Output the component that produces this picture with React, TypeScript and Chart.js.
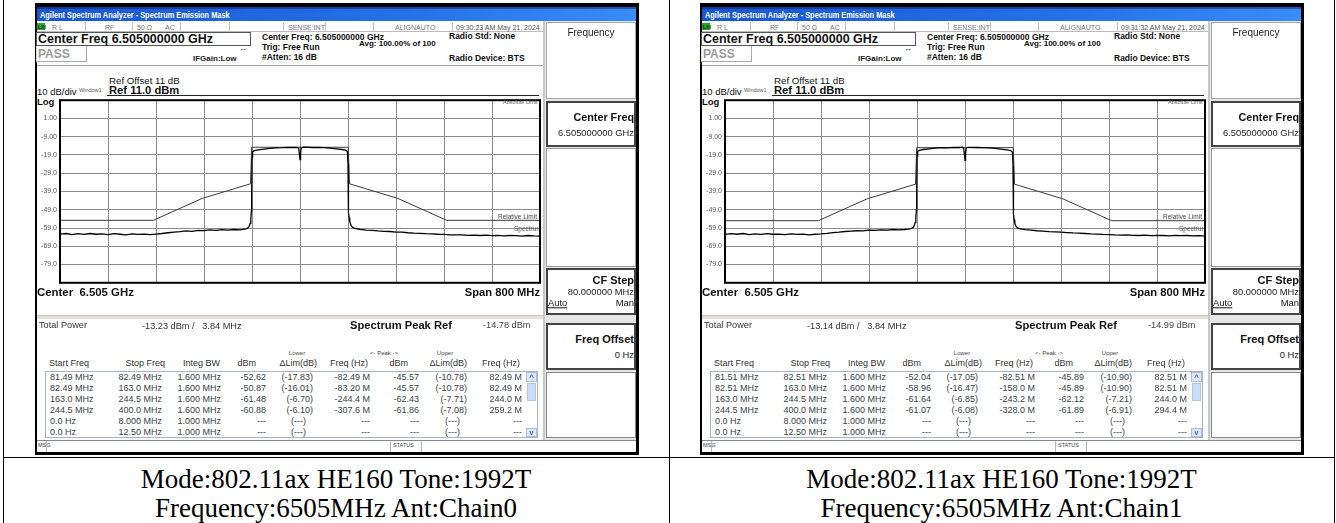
import React, { useEffect, useRef } from "react";
import { Chart, registerables } from "chart.js";
Chart.register(...registerables);

const SANS = '"Liberation Sans", Arial, Helvetica, sans-serif';
const SERIF = '"Liberation Serif", "Times New Roman", serif';

// X axis: offset from the centre frequency in MHz (span 800 MHz, 80 MHz/div)
const freqMin = -400;
const freqMax = 400;
const freqStep = 80;
// Y axis: dBm (Ref 11.0 dBm, 10 dB/div)
const levelMin = -89;
const levelMax = 11;
const levelStep = 10;
const yTickValues = [1, -9, -19, -29, -39, -49, -59, -69, -79];
const yTickLabels = ["1.00", "-9.00", "-19.0", "-29.0", "-39.0", "-49.0", "-59.0", "-69.0", "-79.0"];

// Relative limit mask (MHz offset / dBm)
const limitFreqs = [-400, -244.5, -163, -82.5, -80.5, 80.5, 82.5, 163, 244.5, 400];
const chain0Limit = [-54.78, -54.78, -42.78, -34.78, -14.78, -14.78, -34.78, -42.78, -54.78, -54.78];
const chain1Limit = [-54.99, -54.99, -42.99, -34.99, -14.99, -14.99, -34.99, -42.99, -54.99, -54.99];

// Spectrum trace (MHz offset)
const specFreqs = [
  -400, -390, -380, -370, -360, -350, -340, -330, -320, -310,
  -300, -290, -280, -270, -260, -250, -240, -230, -220, -210,
  -200, -190, -180, -170, -160, -150, -140, -130, -120, -110,
  -100, -95, -90, -87, -85, -83, -82, -81, -80.5, -80,
  -79, -76, -70, -60, -50, -40, -30, -20, -10, -4,
  -2, -1, 0, 1, 2, 4, 10, 20, 30, 40,
  50, 60, 70, 76, 79, 80, 80.5, 81, 82, 83,
  85, 87, 90, 95, 100, 110, 120, 130, 140, 150,
  160, 170, 180, 190, 200, 210, 220, 230, 240, 250,
  260, 270, 280, 290, 300, 310, 320, 330, 340, 350,
  360, 370, 380, 390, 400,
];
const chain0Spectrum = [
  -62.3, -62.0, -62.6, -62.1, -62.5, -62.0, -62.4, -62.2, -62.6, -62.1,
  -62.4, -62.7, -62.2, -62.5, -62.3, -62.6, -62.3, -62.0, -61.6, -61.2,
  -61.0, -60.6, -60.8, -60.3, -60.4, -60.0, -60.3, -59.9, -60.1, -59.8,
  -60.0, -59.7, -59.5, -59.0, -58.2, -56.5, -54.0, -49.5, -40.0, -20.0,
  -17.2, -16.6, -16.2, -15.8, -15.4, -15.1, -15.0, -14.8, -14.9, -14.8,
  -15.5, -18.5, -21.5, -18.0, -15.4, -14.8, -14.7, -14.9, -14.8, -15.0,
  -15.3, -15.6, -16.0, -16.4, -17.0, -24.0, -45.0, -50.5, -53.5, -55.5,
  -57.5, -58.5, -59.0, -59.4, -59.7, -60.1, -60.3, -60.6, -60.8, -60.9,
  -61.2, -61.3, -61.6, -61.8, -61.9, -62.1, -62.2, -62.4, -62.5, -62.7,
  -62.8, -62.7, -63.0, -62.9, -63.1, -62.9, -63.2, -63.0, -63.3, -63.1,
  -63.2, -63.4, -63.1, -63.3, -63.4,
];
const chain1Spectrum = [
  -62.5, -62.1, -62.4, -62.0, -62.6, -62.2, -62.5, -62.1, -62.4, -62.3,
  -62.6, -62.2, -62.5, -62.3, -62.7, -62.4, -62.2, -61.9, -61.5, -61.3,
  -60.9, -60.7, -60.5, -60.6, -60.2, -60.3, -60.0, -60.1, -59.8, -60.0,
  -59.8, -59.6, -59.3, -58.8, -58.0, -56.0, -53.5, -49.0, -38.0, -19.5,
  -17.0, -16.5, -16.0, -15.6, -15.3, -15.0, -15.1, -14.8, -14.9, -14.7,
  -15.6, -18.8, -22.0, -18.2, -15.5, -14.8, -14.8, -14.9, -15.0, -15.1,
  -15.4, -15.8, -16.2, -16.6, -17.4, -25.0, -46.0, -51.5, -54.5, -56.5,
  -58.0, -58.8, -59.3, -59.6, -59.9, -60.2, -60.5, -60.7, -61.0, -61.1,
  -61.3, -61.5, -61.7, -61.8, -62.0, -62.2, -62.3, -62.5, -62.6, -62.8,
  -62.9, -62.8, -63.0, -63.1, -62.9, -63.2, -63.0, -63.1, -63.3, -63.0,
  -63.2, -63.1, -63.3, -63.2, -63.4,
];

// Result table
const tableHeaders = ["Start Freq", "Stop Freq", "Integ BW", "dBm", "ΔLim(dB)", "Freq (Hz)", "dBm", "ΔLim(dB)", "Freq (Hz)"];
const chain0Rows = [
  ["81.49 MHz", "82.49 MHz", "1.600 MHz", "-52.62", "(-17.83)", "-82.49 M", "-45.57", "(-10.78)", "82.49 M"],
  ["82.49 MHz", "163.0 MHz", "1.600 MHz", "-50.87", "(-16.01)", "-83.20 M", "-45.57", "(-10.78)", "82.49 M"],
  ["163.0 MHz", "244.5 MHz", "1.600 MHz", "-61.48", "(-6.70)", "-244.4 M", "-62.43", "(-7.71)", "244.0 M"],
  ["244.5 MHz", "400.0 MHz", "1.600 MHz", "-60.88", "(-6.10)", "-307.6 M", "-61.86", "(-7.08)", "259.2 M"],
  ["0.0 Hz", "8.000 MHz", "1.000 MHz", "---", "(---)", "---", "---", "(---)", "---"],
  ["0.0 Hz", "12.50 MHz", "1.000 MHz", "---", "(---)", "---", "---", "(---)", "---"],
];
const chain1Rows = [
  ["81.51 MHz", "82.51 MHz", "1.600 MHz", "-52.04", "(-17.05)", "-82.51 M", "-45.89", "(-10.90)", "82.51 M"],
  ["82.51 MHz", "163.0 MHz", "1.600 MHz", "-58.96", "(-16.47)", "-158.0 M", "-45.89", "(-10.90)", "82.51 M"],
  ["163.0 MHz", "244.5 MHz", "1.600 MHz", "-61.64", "(-6.85)", "-243.2 M", "-62.12", "(-7.21)", "244.0 M"],
  ["244.5 MHz", "400.0 MHz", "1.600 MHz", "-61.07", "(-6.08)", "-328.0 M", "-61.89", "(-6.91)", "294.4 M"],
  ["0.0 Hz", "8.000 MHz", "1.000 MHz", "---", "(---)", "---", "---", "(---)", "---"],
  ["0.0 Hz", "12.50 MHz", "1.000 MHz", "---", "(---)", "---", "---", "(---)", "---"],
];
const chain0Summary = ["09:30:23 AM May 21, 2024", "-13.23 dBm /   3.84 MHz", "-14.78 dBm"];
const chain1Summary = ["09:31:32 AM May 21, 2024", "-13.14 dBm /   3.84 MHz", "-14.99 dBm"];
const chain0Caption = ["Mode:802.11ax HE160 Tone:1992T", "Frequency:6505MHz Ant:Chain0"];
const chain1Caption = ["Mode:802.11ax HE160 Tone:1992T", "Frequency:6505MHz Ant:Chain1"];

type TP = {
  x: number; y: number; s: number; b?: boolean; c?: string; a?: "l" | "r" | "c";
  f?: string; u?: boolean; sx?: number; children: React.ReactNode;
};
function T({ x, y, s, b, c, a = "l", f = SANS, u, sx, children }: TP) {
  let tx = a === "r" ? "translate(-100%,-50%)" : a === "c" ? "translate(-50%,-50%)" : "translateY(-50%)";
  if (sx) tx += ` scaleX(${sx})`;
  return (
    <div
      style={{
        position: "absolute", left: x, top: y, transform: tx, transformOrigin: "left center",
        fontSize: s, fontWeight: b ? 700 : 400,
        color: c ?? "#111", fontFamily: f, whiteSpace: "pre", lineHeight: 1,
        textDecoration: u ? "underline" : undefined,
      }}
    >
      {children}
    </div>
  );
}

function R({ x, y, w, h, st }: { x: number; y: number; w: number; h: number; st?: React.CSSProperties }) {
  return <div style={{ position: "absolute", left: x, top: y, width: w, height: h, boxSizing: "border-box", ...st }} />;
}

function SpectrumPlot({ left, top, spectrum, limit }: { left: number; top: number; spectrum: number[]; limit: number[] }) {
  const ref = useRef<HTMLCanvasElement>(null);
  useEffect(() => {
    const frame = {
      id: "plotFrame",
      afterDraw(c: any) {
        const { left: l, top: t, right: r, bottom: b } = c.chartArea;
        const ctx = c.ctx;
        ctx.save();
        ctx.strokeStyle = "#000";
        ctx.lineWidth = 2;
        ctx.strokeRect(l, t, r - l, b - t);
        ctx.restore();
      },
    };
    const chart = new Chart(ref.current as HTMLCanvasElement, {
      type: "line",
      data: {
        datasets: [
          {
            label: "Spectrum",
            data: specFreqs.map((f, i) => ({ x: f, y: spectrum[i] })),
            borderColor: "#000", borderWidth: 1.3, pointRadius: 0, order: 0,
          },
          {
            label: "Relative Limit",
            data: limitFreqs.map((f, i) => ({ x: f, y: limit[i] })),
            borderColor: "#3a3a3a", borderWidth: 1, pointRadius: 0, order: 1,
          },
        ],
      },
      options: {
        animation: false,
        responsive: false,
        devicePixelRatio: 1,
        events: [],
        layout: { padding: { top: 5, bottom: 5, left: 0, right: 5 } },
        plugins: { legend: { display: false }, tooltip: { enabled: false } },
        scales: {
          x: {
            type: "linear", min: freqMin, max: freqMax,
            ticks: { display: false, stepSize: freqStep },
            grid: { color: "#8c8c8c", lineWidth: 1, drawTicks: false },
            border: { display: false },
          },
          y: {
            type: "linear", min: levelMin, max: levelMax,
            ticks: {
              stepSize: levelStep, padding: 3, color: "#555",
              font: { family: SANS, size: 7 },
              callback: (v: any) => {
                const i = yTickValues.indexOf(Math.round(Number(v)));
                return i >= 0 ? yTickLabels[i] : "";
              },
            },
            grid: { color: "#8c8c8c", lineWidth: 1, drawTicks: false },
            border: { display: false },
            afterFit: (s: any) => { s.width = 20; },
          },
        },
      } as any,
      plugins: [frame],
    });
    return () => chart.destroy();
  }, [spectrum, limit]);
  return (
    <canvas
      ref={ref}
      width={505}
      height={197}
      style={{ position: "absolute", left, top, width: 505, height: 197 }}
    />
  );
}

const colRight = [0, 162, 221, 266, 313, 370, 419, 467, 522];
const headRight = [0, 165, 220, 256, 317, 368, 408, 467, 520];

function Screen({ dx, summary, rows, spectrum, limit }: {
  dx: number; summary: string[]; rows: string[][]; spectrum: number[]; limit: number[];
}) {
  const X = (v: number) => v + dx;
  const gray = "#777";
  const sep = [85, 132, 180, 229, 283, 325, 373, 452];
  return (
    <>
      {/* frame */}
      <R x={X(35)} y={3} w={604} h={452} st={{ background: "#000" }} />
      <R x={X(37)} y={21} w={599} h={431} st={{ background: "#fff" }} />
      {/* title bar */}
      <R x={X(37)} y={7} w={599} h={14} st={{ background: "linear-gradient(to right,#1757d2,#2670e6 60%,#3a8cf8)" }} />
      <R x={X(37)} y={7} w={599} h={2} st={{ background: "rgba(0,20,90,0.45)" }} />
      <T x={X(40)} y={14.5} s={9} b c="#fff" sx={0.82}>Agilent Spectrum Analyzer - Spectrum Emission Mask</T>
      {/* status row */}
      <R x={X(37)} y={21} w={506} h={11} st={{ borderBottom: "1px solid #bbb" }} />
      {sep.map((s) => (
        <R key={s} x={X(s)} y={22} w={1} h={10} st={{ background: "#c4c4c4" }} />
      ))}
      <R x={X(37)} y={23} w={8} h={7} st={{ background: "#2fa52f" }} />
      <T x={X(38)} y={26.5} s={5} b c="#0a300a">LXI</T>
      <T x={X(52)} y={26.5} s={7} c={gray}>R L</T>
      <T x={X(105)} y={26.5} s={7} c={gray}>RF</T>
      <T x={X(137)} y={26.5} s={7} c={gray}>50 Ω</T>
      <T x={X(165)} y={26.5} s={7} c={gray}>AC</T>
      <T x={X(288)} y={26.5} s={7} c={gray}>SENSE:INT</T>
      <T x={X(395)} y={26.5} s={7} c={gray}>ALIGNAUTO</T>
      <T x={X(456)} y={26.5} s={7} c="#555">{summary[0]}</T>
      {/* centre freq / pass */}
      <R x={X(36)} y={32} w={215} h={14} st={{ border: "1px solid #555", background: "#fff" }} />
      <T x={X(38)} y={39} s={12.5} b>Center Freq 6.505000000 GHz</T>
      <R x={X(36)} y={46} w={51} h={16} st={{ borderRight: "1px solid #aaa", borderBottom: "1px solid #aaa", borderLeft: "1px solid #ddd" }} />
      <T x={X(38)} y={54} s={12} b c="#9a9a9a">PASS</T>
      <T x={X(193)} y={59} s={8} b c="#222">IFGain:Low</T>
      <T x={X(239)} y={49} s={8} c="#222">↔</T>
      <T x={X(262)} y={37} s={8.5} b c="#111">Center Freq: 6.505000000 GHz</T>
      <T x={X(262)} y={47} s={8.5} b c="#111">Trig: Free Run</T>
      <T x={X(262)} y={57} s={8.5} b c="#111">#Atten: 16 dB</T>
      <T x={X(359)} y={44} s={8} b c="#111">Avg: 100.00% of 100</T>
      <T x={X(449)} y={36} s={8.5} b c="#111">Radio Std: None</T>
      <T x={X(449)} y={58} s={8.5} b c="#111">Radio Device: BTS</T>
      <R x={X(37)} y={65} w={506} h={1} st={{ background: "#a0a0a0" }} />
      {/* reference labels */}
      <T x={X(109)} y={81} s={9.7} c="#111">Ref Offset 11 dB</T>
      <T x={X(37)} y={91.5} s={9.5} c="#111">10 dB/div</T>
      <T x={X(79)} y={90.5} s={5.5} c="#555">Window1</T>
      <T x={X(109)} y={91} s={11.2} b c="#111">Ref 11.0 dBm</T>
      <R x={X(107)} y={95} w={432} h={1} st={{ background: "#222" }} />
      <T x={X(37)} y={102} s={9.5} b c="#111">Log</T>
      {/* plot */}
      <SpectrumPlot left={X(40)} top={93} spectrum={spectrum} limit={limit} />
      <div style={{ position: "absolute", left: X(503), top: 99, width: 35, height: 7, overflow: "hidden" }}>
        <T x={0} y={3.5} s={5.5} c="#666">Absolute Limit</T>
      </div>
      <T x={X(537)} y={217} s={6.5} c="#444" a="r">Relative Limit</T>
      <div style={{ position: "absolute", left: X(514), top: 225, width: 24, height: 8, overflow: "hidden" }}>
        <T x={0} y={4} s={6.5} c="#555">Spectrum</T>
      </div>
      <T x={X(37)} y={293} s={11.4} b c="#111">Center  6.505 GHz</T>
      <T x={X(540)} y={293} s={11.2} b c="#111" a="r">Span 800 MHz</T>
      {/* results */}
      <R x={X(37)} y={315} w={506} h={4} st={{ background: "#e4e0d8", borderTop: "1px solid #cdc8be" }} />
      <T x={X(39)} y={326} s={9.2} c="#333">Total Power</T>
      <T x={X(142)} y={327} s={9.2} c="#333">{summary[1]}</T>
      <T x={X(350)} y={326} s={11.2} b c="#111">Spectrum Peak Ref</T>
      <T x={X(483)} y={326} s={9.2} c="#444">{summary[2]}</T>
      <T x={X(297)} y={352.5} s={6} c="#444" a="c">Lower</T>
      <T x={X(384)} y={352.5} s={6} c="#444" a="c">{"<- Peak ->"}</T>
      <T x={X(445)} y={352.5} s={6} c="#444" a="c">Upper</T>
      {tableHeaders.map((h, i) =>
        i === 0 ? (
          <T key={i} x={X(49)} y={363} s={9} c="#333">{h}</T>
        ) : (
          <T key={i} x={X(headRight[i])} y={363} s={9} c="#333" a="r">{h}</T>
        )
      )}
      <R x={X(45)} y={371} w={493} h={67} st={{ border: "1px solid #a8b4c4", background: "#fff" }} />
      {rows.map((r, ri) =>
        r.map((cell, ci) =>
          ci === 0 ? (
            <T key={ri + "-" + ci} x={X(50)} y={377 + ri * 11} s={9} c="#3a3f48">{cell}</T>
          ) : (
            <T key={ri + "-" + ci} x={X(colRight[ci] - (cell === "(---)" ? 7 : 0))} y={377 + ri * 11} s={9} c="#3a3f48" a="r">{cell}</T>
          )
        )
      )}
      {/* scrollbar */}
      <R x={X(526)} y={372} w={11} h={10} st={{ background: "#dfe8f8", border: "1px solid #a9bde0" }} />
      <T x={X(531.5)} y={378} s={8} b c="#3b5fa8" a="c">^</T>
      <R x={X(527)} y={383} w={9} h={18} st={{ background: "#cddcf6", border: "1px solid #b3c6ea" }} />
      <R x={X(526)} y={428} w={11} h={9} st={{ background: "#dfe8f8", border: "1px solid #a9bde0" }} />
      <T x={X(531.5)} y={431.5} s={7} b c="#3b5fa8" a="c">v</T>
      {/* message bar */}
      <R x={X(37)} y={440} w={599} h={12} st={{ borderTop: "1px solid #888", background: "#fff" }} />
      <T x={X(38)} y={446} s={5.5} c="#444">MSG</T>
      <R x={X(46)} y={441} w={1} h={11} st={{ background: "#bbb" }} />
      <R x={X(390)} y={441} w={1} h={11} st={{ background: "#bbb" }} />
      <T x={X(393)} y={446} s={5.5} c="#444">STATUS</T>
      <R x={X(421)} y={441} w={1} h={11} st={{ background: "#bbb" }} />
      {/* softkey panel */}
      <R x={X(543)} y={21} w={93} h={419} st={{ background: "#e6e6e6", borderLeft: "2px solid #c8c8c8" }} />
      <R x={X(546)} y={22} w={90} h={77} st={{ background: "#fff", border: "1px solid #aaa" }} />
      <T x={X(591)} y={33} s={10} c="#222" a="c">Frequency</T>
      <R x={X(546)} y={101} w={90} h={46} st={{ background: "#fff", border: "2px solid #444" }} />
      <T x={X(634)} y={117} s={10.8} b c="#111" a="r">Center Freq</T>
      <T x={X(634)} y={133} s={9.4} c="#222" a="r">6.505000000 GHz</T>
      <R x={X(546)} y={148} w={90} h={119} st={{ background: "#fff", border: "1px solid #999" }} />
      <R x={X(546)} y={268} w={90} h={47} st={{ background: "#fff", border: "2px solid #444" }} />
      <T x={X(634)} y={280} s={11} b c="#111" a="r">CF Step</T>
      <T x={X(634)} y={292} s={9.4} c="#222" a="r">80.000000 MHz</T>
      <T x={X(548)} y={303} s={9.4} c="#111" u>Auto</T>
      <T x={X(634)} y={303} s={9.4} c="#111" a="r">Man</T>
      <R x={X(546)} y={323} w={90} h={47} st={{ background: "#fff", border: "2px solid #444" }} />
      <T x={X(634)} y={339} s={11} b c="#111" a="r">Freq Offset</T>
      <T x={X(634)} y={355} s={9.4} c="#222" a="r">0 Hz</T>
      <R x={X(546)} y={372} w={90} h={66} st={{ background: "#fff", border: "1px solid #888" }} />
    </>
  );
}

export default function App() {
  return (
    <div style={{ position: "absolute", left: 0, top: 0, width: 1336, height: 523, overflow: "hidden", background: "#fff" }}>
      <Screen dx={0} summary={chain0Summary} rows={chain0Rows} spectrum={chain0Spectrum} limit={chain0Limit} />
      <Screen dx={665} summary={chain1Summary} rows={chain1Rows} spectrum={chain1Spectrum} limit={chain1Limit} />
      {/* document table lines */}
      <R x={3} y={0} w={1} h={523} st={{ background: "#000" }} />
      <R x={669} y={0} w={1} h={523} st={{ background: "#000" }} />
      <R x={1334} y={0} w={1} h={523} st={{ background: "#000" }} />
      <R x={3} y={457} w={1332} h={1} st={{ background: "#000" }} />
      <T x={336} y={479} s={27} f={SERIF} c="#000" a="c">{chain0Caption[0]}</T>
      <T x={336} y={508} s={27} f={SERIF} c="#000" a="c">{chain0Caption[1]}</T>
      <T x={1001.5} y={479} s={27} f={SERIF} c="#000" a="c">{chain1Caption[0]}</T>
      <T x={1001.5} y={508} s={27} f={SERIF} c="#000" a="c">{chain1Caption[1]}</T>
    </div>
  );
}
